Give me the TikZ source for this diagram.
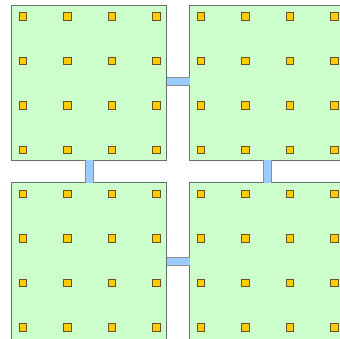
\documentclass[tikz,border=0pt]{standalone}
\begin{document}
\begin{tikzpicture}[x=1pt,y=-1pt]
\definecolor{padfill}{HTML}{FFCC00}
\definecolor{padline}{HTML}{665522}
\definecolor{panelfill}{HTML}{CCFFCC}
\definecolor{panelline}{HTML}{667066}
\definecolor{linkfill}{HTML}{99CCFF}
\tikzset{
  panel/.style={draw=panelline,fill=panelfill,line width=1pt,minimum width=155pt,minimum height=155pt,inner sep=0pt,outer sep=0pt},
  tallpanel/.style={panel,minimum height=160pt},
  pad/.style={draw=padline,fill=padfill,line width=0.8pt,minimum size=7.5pt,inner sep=0pt},
  link/.style={draw=black!45,line width=1pt,double=linkfill,double distance=7pt}}
\useasboundingbox (0,0) rectangle (340,339);
\clip (0,0) rectangle (340,339);
\node[panel] (tl) at (89,83) {};
\node[panel] (tr) at (267,83) {};
\node[tallpanel,anchor=north] (bl) at (89,183) {};
\node[tallpanel,anchor=north] (br) at (267,183) {};
\foreach \p in {tl,tr,bl,br}{
  \foreach \i/\dx in {1/11.6,2/56.1,3/100.6,4/145.1}{
    \foreach \j/\dy in {1/11,2/55.6,3/100.1,4/144.6}{
      \node[pad] (\p-\i-\j) at ([shift={(\dx,\dy)}]\p.north west) {};
    }
  }
}
\draw[link] ([yshift=1pt]tl.east) -- ([yshift=1pt]tr.west);
\draw[link] ([yshift=2pt]bl.east) -- ([yshift=2pt]br.west);
\draw[link] (tl.south) -- (bl.north);
\draw[link] (tr.south) -- (br.north);
\end{tikzpicture}
\end{document}
